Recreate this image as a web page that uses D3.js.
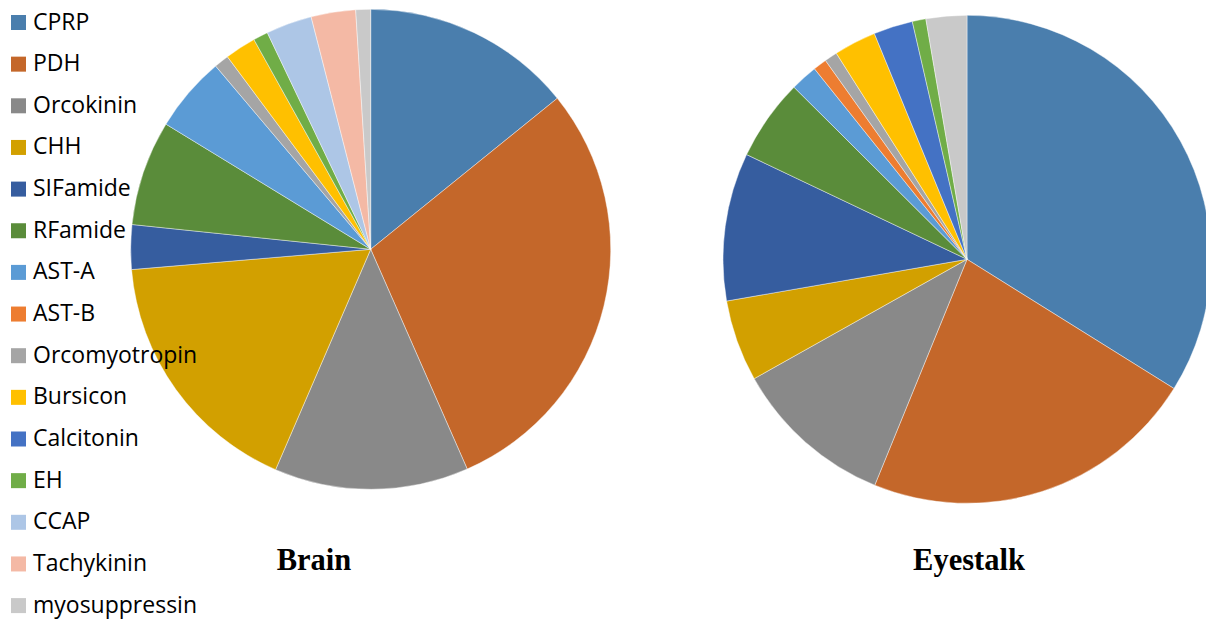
<!DOCTYPE html>
<html>
<head>
<meta charset="utf-8">
<script src="https://cdn.jsdelivr.net/npm/d3@7"></script>
<style>
  html, body { margin: 0; padding: 0; background: #fff; }
  svg { display: block; }
</style>
</head>
<body>
<svg id="chart" width="1206" height="622"></svg>
<script>
// Neuropeptide families (share of identified peptides, %)
const families = ["CPRP", "PDH", "Orcokinin", "CHH", "SIFamide", "RFamide", "AST-A", "AST-B",
  "Orcomyotropin", "Bursicon", "Calcitonin", "EH", "CCAP", "Tachykinin", "myosuppressin"];

const brainValues    = [14.2, 29.3, 13.1, 17.2, 3.0, 7.1, 5.1, 0, 1.0, 2.1, 0, 1.0, 3.1, 3.0, 1.0];
const eyestalkValues = [33.9, 22.3, 10.7, 5.4, 9.8, 5.4, 1.8, 0.9, 0.85, 2.8, 2.6, 0.9, 0, 0, 2.7];

const tissueTitles = ["Brain", "Eyestalk"];

const palette = ["#4a7ead", "#c4672a", "#898989", "#d2a000", "#365d9f", "#5a8c3a", "#5b9bd5", "#ed7d31",
  "#a5a5a5", "#ffc000", "#4472c4", "#70ad47", "#adc6e6", "#f4b9a5", "#c9c9c9"];

const svg = d3.select("#chart");
const color = d3.scaleOrdinal().domain(families).range(palette);

const pie = d3.pie().sort(null).value(d => d.value);

function drawPie(values, cx, cy, r, title, titleX) {
  const data = families.map((f, i) => ({ name: f, value: values[i] }));
  const arc = d3.arc().innerRadius(0).outerRadius(r);
  const g = svg.append("g").attr("transform", `translate(${cx},${cy})`);
  g.selectAll("path")
    .data(pie(data).filter(d => d.data.value > 0))
    .join("path")
    .attr("d", arc)
    .attr("fill", d => color(d.data.name))
    .attr("stroke", "#ffffff")
    .attr("stroke-width", 0.6)
    .attr("stroke-opacity", 0.7);
  svg.append("text")
    .attr("x", titleX)
    .attr("y", 570)
    .attr("text-anchor", "middle")
    .attr("font-family", "'Liberation Serif', 'Times New Roman', serif")
    .attr("font-weight", "bold")
    .attr("font-size", 30.5)
    .attr("fill", "#000")
    .text(title);
}

drawPie(brainValues, 370.7, 249.3, 240, tissueTitles[0], 314);
drawPie(eyestalkValues, 967, 259.3, 244, tissueTitles[1], 969);

// Legend drawn on top of the pies
const legend = svg.append("g");
const rows = legend.selectAll("g")
  .data(families)
  .join("g")
  .attr("transform", (d, i) => `translate(11,${15 + i * 41.65})`);
rows.append("rect")
  .attr("width", 15)
  .attr("height", 15)
  .attr("fill", d => color(d));
rows.append("text")
  .attr("x", 22)
  .attr("y", 14.5)
  .attr("font-family", "'Open Sans', 'Noto Sans', sans-serif")
  .attr("font-size", 23)
  .attr("fill", "#000")
  .text(d => d);
</script>
</body>
</html>
